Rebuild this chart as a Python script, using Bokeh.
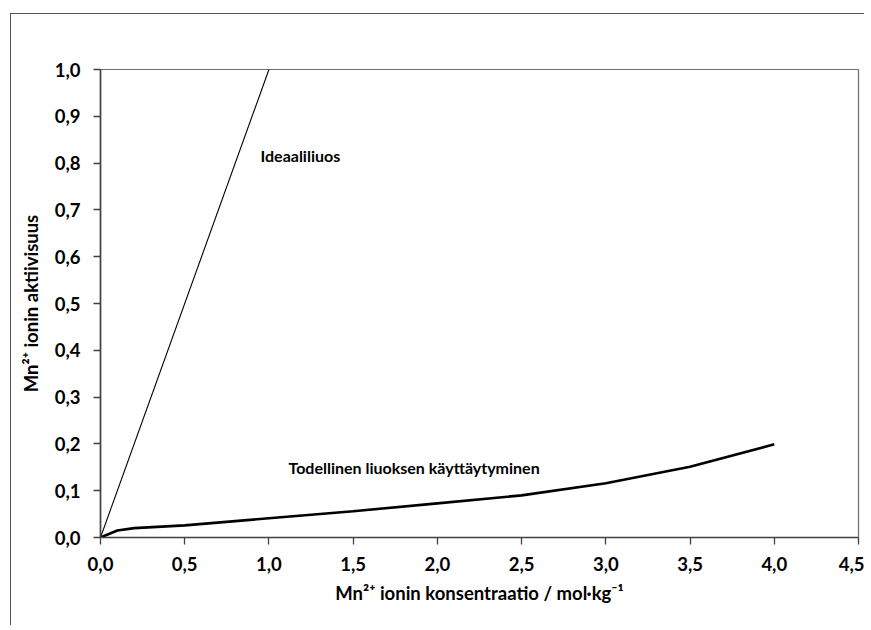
from bokeh.plotting import figure
from bokeh.models import Range1d, FixedTicker
from bokeh.core.properties import value
from bokeh.embed import file_html
from bokeh.resources import INLINE

# ---- data ----
ideal_x = [0.0, 1.0]
ideal_y = [0.0, 1.0]
real_x = [0.0, 0.1, 0.2, 0.5, 1.0, 1.5, 2.0, 2.5, 3.0, 3.5, 4.0]
real_y = [0.0, 0.015, 0.020, 0.026, 0.041, 0.056, 0.073, 0.090, 0.116, 0.151, 0.199]
x_ticks = [0.0, 0.5, 1.0, 1.5, 2.0, 2.5, 3.0, 3.5, 4.0, 4.5]
x_tick_labels = ["0,0", "0,5", "1,0", "1,5", "2,0", "2,5", "3,0", "3,5", "4,0", "4,5"]
y_ticks = [0.0, 0.1, 0.2, 0.3, 0.4, 0.5, 0.6, 0.7, 0.8, 0.9, 1.0]
y_tick_labels = ["0,0", "0,1", "0,2", "0,3", "0,4", "0,5", "0,6", "0,7", "0,8", "0,9", "1,0"]
x_title = "Mn²⁺ ionin konsentraatio / mol·kg⁻¹"
y_title = "Mn²⁺ ionin aktiivisuus"
label_ideal = "Ideaaliliuos"
label_real = "Todellinen liuoksen käyttäytyminen"

FONT = "Lato"
FS = "18.5px"

p = figure(width=854, height=612, output_backend="svg", toolbar_location=None,
           x_range=Range1d(0, 4.5), y_range=Range1d(0, 1.0),
           min_border_left=89, min_border_top=55, min_border_right=7, min_border_bottom=89)
p.margin = (13, 0, 0, 10)
p.styles = {"border-top": "1.5px solid #555555", "border-left": "1.5px solid #555555"}
p.xgrid.visible = False
p.ygrid.visible = False
p.outline_line_color = "#6e6e6e"
p.outline_line_width = 1.2
p.background_fill_color = "white"
p.border_fill_color = "white"

for ax, ticks, labels in ((p.xaxis, x_ticks, x_tick_labels), (p.yaxis, y_ticks, y_tick_labels)):
    ax.ticker = FixedTicker(ticks=ticks)
    ax.major_label_overrides = {t: l for t, l in zip(ticks, labels)}
    ax.minor_tick_line_color = None
    ax.major_tick_in = 0
    ax.major_tick_out = 7
    ax.axis_line_color = "#404040"
    ax.axis_line_width = 1.6
    ax.major_tick_line_color = "#404040"
    ax.major_tick_line_width = 1.3
    ax.major_label_text_font = FONT
    ax.major_label_text_font_style = "bold"
    ax.major_label_text_font_size = FS
    ax.major_label_text_color = "black"
    ax.axis_label_text_font = FONT
    ax.axis_label_text_font_style = "bold"
    ax.axis_label_text_font_size = FS
    ax.axis_label_text_color = "black"

p.xaxis.axis_label = x_title
p.yaxis.axis_label = y_title
p.xaxis.major_label_standoff = 12
p.yaxis.major_label_standoff = 13
p.xaxis.axis_label_standoff = 8
p.yaxis.axis_label_standoff = 10

p.line(ideal_x, ideal_y, line_color="black", line_width=1.1)
p.line(real_x, real_y, line_color="black", line_width=2.6)

p.text(x=[0.95], y=[0.816], text=[label_ideal], text_font=value(FONT), text_font_style="bold",
       text_font_size="16px", text_baseline="middle", text_align="left", text_color="black")
p.text(x=[1.116], y=[0.150], text=[label_real], text_font=value(FONT), text_font_style="bold",
       text_font_size="16px", text_baseline="middle", text_align="left", text_color="black")

open("out.html", "w").write(file_html(p, INLINE))
